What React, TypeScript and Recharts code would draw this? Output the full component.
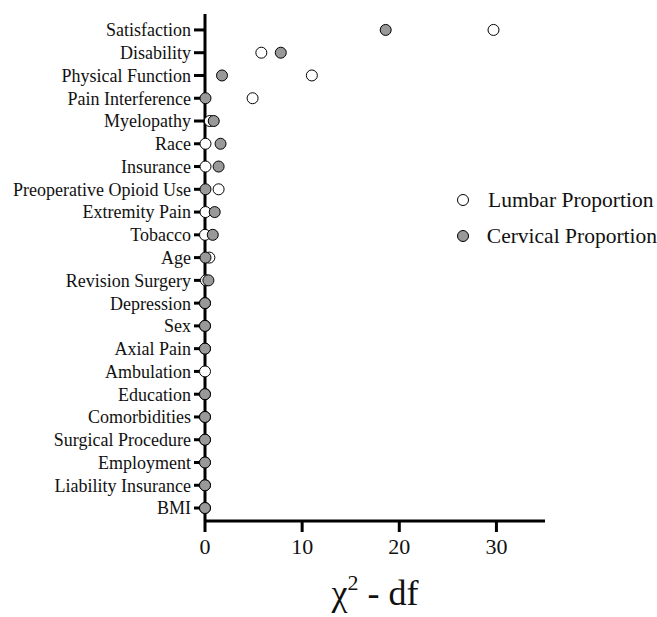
import {
  ScatterChart, Scatter, XAxis, YAxis, Legend,
} from 'recharts'

const categories = [
  'Satisfaction', 'Disability', 'Physical Function', 'Pain Interference',
  'Myelopathy', 'Race', 'Insurance', 'Preoperative Opioid Use',
  'Extremity Pain', 'Tobacco', 'Age', 'Revision Surgery', 'Depression',
  'Sex', 'Axial Pain', 'Ambulation', 'Education', 'Comorbidities',
  'Surgical Procedure', 'Employment', 'Liability Insurance', 'BMI',
]

const lumbarValues: (number | null)[] = [
  29.7, 5.8, 11.0, 4.9, 0.5, 0.05, 0.05, 1.4, 0.05, 0.0, 0.45,
  0.1, 0, 0, 0, 0, 0, 0, 0, 0, 0, 0,
]

const cervicalValues: (number | null)[] = [
  18.6, 7.8, 1.75, 0.05, 0.9, 1.6, 1.4, 0.05, 1.0, 0.8, 0.05,
  0.35, 0, 0, 0, null, 0, 0, 0, 0, 0, 0,
]

const xTicks = [0, 10, 20, 30]

const FONT = '"Liberation Serif", "Times New Roman", serif'
const GRAY = '#999999'

const toPoints = (values: (number | null)[]) =>
  values
    .map((v, i) => ({ row: i, value: v }))
    .filter((p) => p.value !== null)

const lumbar = toPoints(lumbarValues)
const cervical = toPoints(cervicalValues)

const series = [
  { name: 'Lumbar Proportion', fill: '#ffffff' },
  { name: 'Cervical Proportion', fill: GRAY },
]

function Dot(fill: string) {
  return (props: any) => (
    <circle cx={props.cx} cy={props.cy} r={5.5} fill={fill} stroke="#000" strokeWidth={1} />
  )
}

function LegendBox() {
  return (
    <div style={{ fontFamily: FONT, fontSize: 21.5, color: '#111', whiteSpace: 'nowrap' }}>
      {series.map((s) => (
        <div key={s.name} style={{ display: 'flex', alignItems: 'center', height: 36 }}>
          <svg width={26} height={14} style={{ marginLeft: 6, marginRight: 6 }}>
            <circle cx={7} cy={7} r={5.5} fill={s.fill} stroke="#000" strokeWidth={1} />
          </svg>
          <span>{s.name}</span>
        </div>
      ))}
    </div>
  )
}

function AxisTitle(props: any) {
  const { x, y, width } = props.viewBox
  return (
    <text x={x + width / 2} y={y + 84} textAnchor="middle" fontFamily={FONT} fontSize={36} fill="#111">
      <tspan>χ</tspan>
      <tspan dy={-15} fontSize={22}>2</tspan>
      <tspan dy={15}> - df</tspan>
    </text>
  )
}

export default function App() {
  return (
    <div style={{ position: 'absolute', left: 0, top: 0, background: '#fff' }}>
      <ScatterChart
        width={657}
        height={617}
        margin={{ top: 14, right: 112, left: 0, bottom: 0 }}
      >
        <XAxis
          type="number"
          dataKey="value"
          domain={[0, 35]}
          ticks={xTicks}
          height={96}
          axisLine={{ stroke: '#000', strokeWidth: 3 }}
          tickLine={{ stroke: '#000', strokeWidth: 3 }}
          tickSize={11}
          tickMargin={6}
          tick={{ fill: '#111', fontSize: 22, fontFamily: FONT }}
          label={<AxisTitle />}
        />
        <YAxis
          type="number"
          dataKey="row"
          domain={[-0.7, 21.57]}
          reversed
          ticks={categories.map((_, i) => i)}
          interval={0}
          tickFormatter={(i: number) => categories[i] ?? ''}
          width={205}
          axisLine={{ stroke: '#000', strokeWidth: 3 }}
          tickLine={{ stroke: '#000', strokeWidth: 3 }}
          tickSize={11}
          tickMargin={3}
          tick={{ fill: '#111', fontSize: 18, fontFamily: FONT }}
        />
        <Legend
          layout="vertical"
          align="center"
          verticalAlign="middle"
          content={<LegendBox />}
          wrapperStyle={{ left: 450, top: 182, width: 207, right: 'auto', bottom: 'auto', overflow: 'visible' }}
        />
        <Scatter
          name={series[0].name}
          data={lumbar}
          shape={Dot(series[0].fill)}
          isAnimationActive={false}
        />
        <Scatter
          name={series[1].name}
          data={cervical}
          shape={Dot(series[1].fill)}
          isAnimationActive={false}
        />
      </ScatterChart>
    </div>
  )
}
